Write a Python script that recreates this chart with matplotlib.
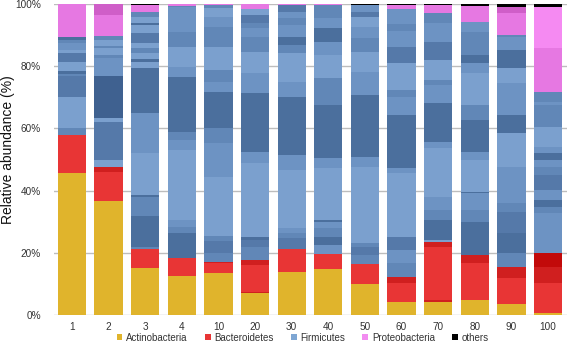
import matplotlib
matplotlib.use("Agg")
import matplotlib.pyplot as plt
from matplotlib.patches import Patch

plt.rcParams['font.family'] = ['Liberation Sans', 'DejaVu Sans']

categories = ['1', '2', '3', '4', '10', '20', '30', '40', '50', '60', '70', '80', '90', '100']

# Cumulative tops (%) of sub-segments within each phylum, per sample
actino_tops = [[45.7], [36.7], [15.2], [12.5], [13.4], [7.0], [13.9],
               [14.7], [10.0], [4.3], [4.3], [4.8], [3.5], [0.5]]

bacteroid_tops = [[58.0], [46.1, 47.7], [21.1], [18.4], [16.6, 17.1],
                  [7.5, 16.0, 17.7], [21.1], [19.6], [16.4], [10.2, 12.3],
                  [4.8, 22.0, 23.6], [16.6, 19.3], [11.8, 15.5], [10.4, 15.5, 20.0]]

firmicutes_tops = [
    [60.0, 70.2, 76.8, 77.5, 78.5, 81.5, 84.3, 85.2, 87.6, 88.4, 89.3],
    [49.8, 62.2, 63.2, 76.8, 82.5, 83.6, 85.7, 86.5, 88.4, 89.7],
    [22.0, 31.8, 38.0, 38.6, 52.0, 64.9, 79.3, 81.5, 82.2, 84.1, 85.7, 87.4, 90.7, 93.2, 94.0, 95.9, 97.5],
    [26.3, 28.4, 30.5, 33.8, 53.1, 56.3, 58.9, 76.6, 79.8, 82.0, 86.3, 91.1, 98.9, 99.5],
    [19.8, 23.9, 25.4, 44.5, 55.2, 60.0, 71.8, 75.0, 78.8, 86.3, 92.7, 95.9, 98.6, 99.7],
    [22.0, 24.1, 25.2, 48.8, 52.5, 71.3, 77.7, 84.7, 89.5, 92.2, 93.8, 96.5, 98.3],
    [24.7, 26.3, 27.9, 46.6, 51.4, 70.2, 75.0, 84.1, 86.8, 89.5, 93.2, 95.4, 97.5, 99.7],
    [22.5, 25.2, 27.9, 30.0, 30.4, 47.2, 50.4, 67.5, 76.1, 83.6, 87.9, 92.2, 95.4, 99.7],
    [19.3, 22.0, 23.0, 47.7, 50.9, 70.7, 78.2, 84.7, 89.0, 92.7, 95.9, 97.5, 99.8],
    [16.6, 20.9, 25.0, 45.6, 47.2, 64.3, 70.2, 72.3, 80.9, 86.3, 91.4, 93.6, 98.3],
    [24.0, 30.5, 33.8, 38.0, 53.6, 55.7, 68.1, 74.0, 75.6, 82.0, 87.9, 93.8, 97.0],
    [30.0, 33.8, 39.1, 39.7, 49.8, 52.5, 62.7, 67.5, 77.7, 80.9, 83.6, 91.1, 94.3],
    [19.8, 26.3, 33.2, 35.9, 41.8, 47.7, 58.4, 64.3, 74.5, 79.3, 85.2, 89.5, 90.0],
    [32.7, 34.8, 37.0, 40.2, 45.0, 47.7, 49.8, 52.0, 54.1, 60.5, 67.5, 68.6, 71.6],
]

proteo_tops = [[100.0], [96.5, 100.0], [99.7], [100.0], [100.0], [100.0], [100.0],
               [100.0], [99.8], [99.6], [99.6], [99.5], [97.0, 98.9], [85.7, 98.9]]

others_top = [100.0] * 14

# ---- styles (shade codes per sub-segment) ----
bacteroid_shades = [['R'], ['R', 'R2'], ['R'], ['R'], ['R', 'R2'], ['R2', 'R', 'R2'], ['R'],
                    ['R'], ['R'], ['R', 'R2'], ['R2', 'R', 'R2'], ['R', 'R2'], ['R', 'R2'],
                    ['R', 'R2', 'R3']]
firmicutes_shades = [
    ['M', 'L', 'MD', 'M', 'D', 'L', 'MD', 'L', 'ML', 'M', 'D'],
    ['L', 'MD', 'L', 'DD', 'ML', 'M', 'L', 'M', 'L', 'M'],
    ['M', 'D', 'M', 'D', 'L', 'ML', 'D', 'L', 'D', 'L', 'M', 'L', 'MD', 'L', 'D', 'L', 'M'],
    ['D', 'M', 'ML', 'L', 'L', 'ML', 'M', 'D', 'ML', 'L', 'L', 'M', 'ML', 'M'],
    ['M', 'MD', 'M', 'L', 'ML', 'M', 'D', 'ML', 'M', 'L', 'M', 'ML', 'L', 'M'],
    ['M', 'MD', 'D', 'L', 'ML', 'D', 'ML', 'L', 'M', 'ML', 'M', 'MD', 'L'],
    ['MD', 'M', 'ML', 'L', 'ML', 'D', 'ML', 'L', 'M', 'D', 'ML', 'M', 'ML', 'MD'],
    ['ML', 'D', 'M', 'ML', 'D', 'L', 'ML', 'D', 'M', 'L', 'ML', 'D', 'ML', 'M'],
    ['M', 'MD', 'M', 'L', 'ML', 'D', 'ML', 'L', 'M', 'ML', 'L', 'MD', 'ML'],
    ['M', 'ML', 'MD', 'L', 'ML', 'D', 'ML', 'M', 'L', 'MD', 'ML', 'M', 'ML'],
    ['L', 'D', 'M', 'ML', 'L', 'ML', 'D', 'ML', 'M', 'L', 'MD', 'ML', 'M'],
    ['D', 'M', 'ML', 'D', 'L', 'ML', 'D', 'M', 'L', 'ML', 'D', 'M', 'ML'],
    ['M', 'D', 'MD', 'M', 'ML', 'ML', 'L', 'D', 'ML', 'L', 'D', 'ML', 'M'],
    ['ML', 'M', 'D', 'ML', 'MD', 'M', 'ML', 'D', 'ML', 'L', 'M', 'ML', 'M'],
]
proteo_shades = [['P'], ['P', 'P2'], ['P'], ['P'], ['P'], ['P'], ['P'], ['P'], ['P'],
                 ['P'], ['P'], ['P'], ['P', 'P2'], ['P', 'P3']]

palette = {
    'Y': '#e0b42c',
    'R': '#e83535', 'R2': '#d01f1f', 'R3': '#c20a0a',
    'L': '#7ba0ce', 'ML': '#6d93c3', 'M': '#6187b7', 'MD': '#5579a9',
    'D': '#4b6f9d', 'DD': '#3f6190',
    'P': '#e678e2', 'P2': '#cf5ec8', 'P3': '#f58af2',
    'K': '#000000',
}

fig = plt.figure(figsize=(5.67, 3.43), dpi=100)
ax = fig.add_axes([53.5 / 567, (343 - 315) / 343, 513 / 567, 311 / 343])

x = list(range(len(categories)))
width = 0.77

for i in x:
    tops = []
    shades = []
    tops += actino_tops[i]
    shades += ['Y'] * len(actino_tops[i])
    tops += bacteroid_tops[i]
    shades += bacteroid_shades[i]
    tops += firmicutes_tops[i]
    shades += firmicutes_shades[i]
    tops += proteo_tops[i]
    shades += proteo_shades[i]
    tops.append(others_top[i])
    shades.append('K')
    bottom = 0.0
    for t, s in zip(tops, shades):
        h = t - bottom
        if h > 0:
            ax.bar(i, h, bottom=bottom, width=width, color=palette[s],
                   linewidth=0, zorder=3)
        bottom = t

ax.set_xlim(-0.5, len(categories) - 0.5)
ax.set_ylim(0, 100)
ax.set_yticks([0, 20, 40, 60, 80, 100])
ax.set_yticklabels(['0%', '20%', '40%', '60%', '80%', '100%'])
ax.set_xticks(x)
ax.set_xticklabels(categories)
ax.tick_params(axis='both', length=0, labelsize=7.2, colors='#333333')
ax.tick_params(axis='y', pad=9)
ax.tick_params(axis='x', pad=5)
ax.yaxis.grid(True, color='#bdbdbd', linewidth=1.0, zorder=0)
ax.set_axisbelow(True)
for sp in ax.spines.values():
    sp.set_visible(False)

fig.text(0.014, (343 - 150) / 343, 'Relative abundance (%)', rotation=90,
         ha='center', va='center', fontsize=10, color='#111111')

handles = [Patch(facecolor='#e0b42c', label='Actinobacteria'),
           Patch(facecolor='#e83535', label='Bacteroidetes'),
           Patch(facecolor='#7ea6d3', label='Firmicutes'),
           Patch(facecolor='#f28cf0', label='Proteobacteria'),
           Patch(facecolor='#000000', label='others')]
fig.legend(handles=handles, loc='lower center', bbox_to_anchor=(0.534, 0.0),
           ncol=5, frameon=False, fontsize=7, handlelength=0.6, handleheight=0.6,
           handletextpad=0.4, columnspacing=1.75, labelcolor='#333333',
           borderpad=0.05, borderaxespad=0.0)

fig.savefig('out.png', dpi=100)
